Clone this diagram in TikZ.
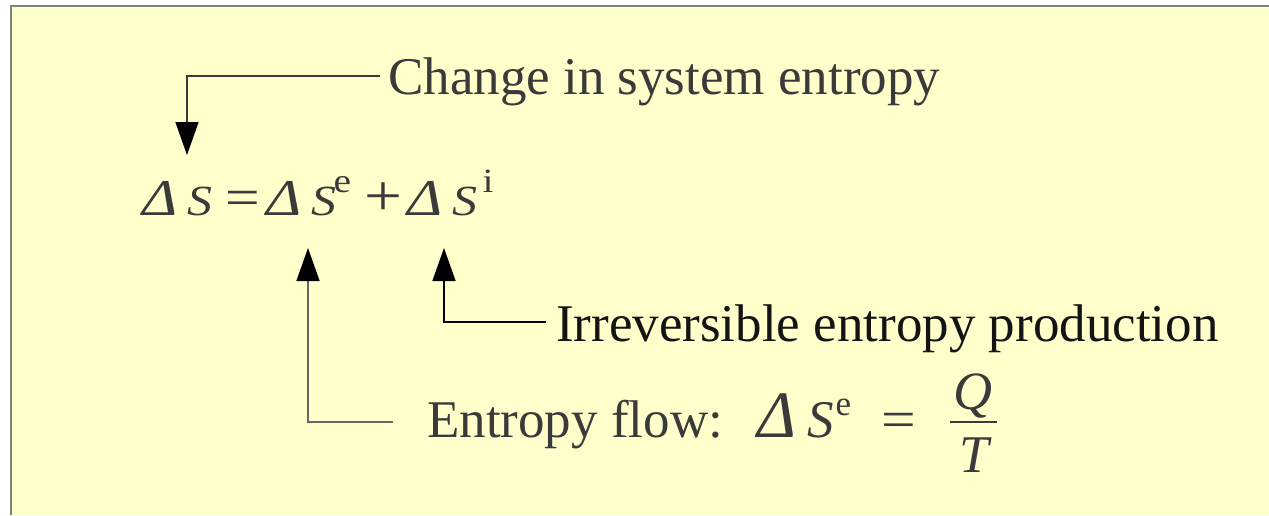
\documentclass[tikz,border=0pt]{standalone}
\usepackage{fontspec}
\usepackage{graphicx}
\setmainfont{Liberation Serif}
\newfontfamily\eqfont[FakeStretch=1.16]{Liberation Serif}
\usetikzlibrary{arrows.meta}
\definecolor{bgyellow}{HTML}{FFFFCC}
\definecolor{inkgray}{HTML}{3A3A3A}
\definecolor{inkdark}{HTML}{141414}
\definecolor{framegray}{HTML}{808080}
\definecolor{linegray}{HTML}{666666}
\newcommand{\putat}[2]{\makebox[0pt][l]{\hspace*{#1pt}#2}}
\newcommand{\bigdelta}[1]{\scalebox{#1}{\itshape Δ}}
\tikzset{
  label text/.style={inner sep=0pt, anchor=base west, text=inkgray, font=\fontsize{53}{60}\selectfont},
  pointer/.style={line width=1.5pt, arrows={-{Triangle[width=23pt,length=33pt,fill=black,color=black]}}},
}
\begin{document}
\begin{tikzpicture}[x=1pt,y=-1pt]
\useasboundingbox (0,0) rectangle (1269,515);
\fill[white] (0,0) rectangle (1269,515);
\fill[bgyellow] (11,6) rectangle (1269,515);
\draw[framegray, line width=2pt] (11,515) -- (11,6) -- (1269,6);

% texts
\node[label text] (change) at (388,94) {Change in system entropy};
\node[label text, text=inkdark] (irrev) at (556,341) {Irreversible entropy production};
\node[label text] (flow) at (427,437) {Entropy flow:};

% main equation
\node[inner sep=0pt, anchor=base west, text=inkgray] (eqmain) at (143,215) {%
  \fontsize{43}{43}\eqfont
  \putat{-1}{\bigdelta{1.2}}%
  \putat{44}{\itshape S}%
  \putat{82}{\fontsize{53}{53}\selectfont =}%
  \putat{123}{\bigdelta{1.2}}%
  \putat{168}{\itshape S}%
  \putat{190}{\raisebox{23pt}{\fontsize{34}{34}\selectfont e}}%
  \putat{221}{\fontsize{58}{58}\selectfont +}%
  \putat{264}{\bigdelta{1.2}}%
  \putat{309}{\itshape S}%
  \putat{339}{\raisebox{23pt}{\fontsize{34}{34}\selectfont i}}%
};

% entropy flow equation
\node[inner sep=0pt, anchor=base west, text=inkgray] (eqflow) at (758,437) {%
  \fontsize{53}{53}\selectfont
  \putat{-1}{\bigdelta{1.25}}%
  \putat{49}{\itshape S}%
  \putat{77}{\raisebox{22pt}{\fontsize{35}{35}\selectfont e}}%
  \putat{123}{\eqfont =}%
};
\node[inner sep=0pt, anchor=base, text=inkgray, font=\fontsize{54}{60}\selectfont\itshape] (numQ) at (973,409) {Q};
\node[inner sep=0pt, anchor=base, text=inkgray, font=\fontsize{53}{60}\selectfont\itshape] (denT) at (974,472) {T};
\coordinate (barL) at (950,422);
\coordinate (barR) at (997,422);
\draw[inkgray, line width=2.5pt] (barL) -- (barR);

% connectors
\coordinate (cStart) at (380,76);
\coordinate (cTip) at (187,155);
\draw[pointer, draw=inkgray] (cStart) -| (cTip);

\coordinate (iStart) at (546,322);
\coordinate (iTip) at (444,248);
\draw[pointer, draw=black] (iStart) -| (iTip);

\coordinate (fStart) at (393,422);
\coordinate (fTip) at (308,248);
\draw[pointer, draw=linegray] (fStart) -| (fTip);
\end{tikzpicture}
\end{document}
